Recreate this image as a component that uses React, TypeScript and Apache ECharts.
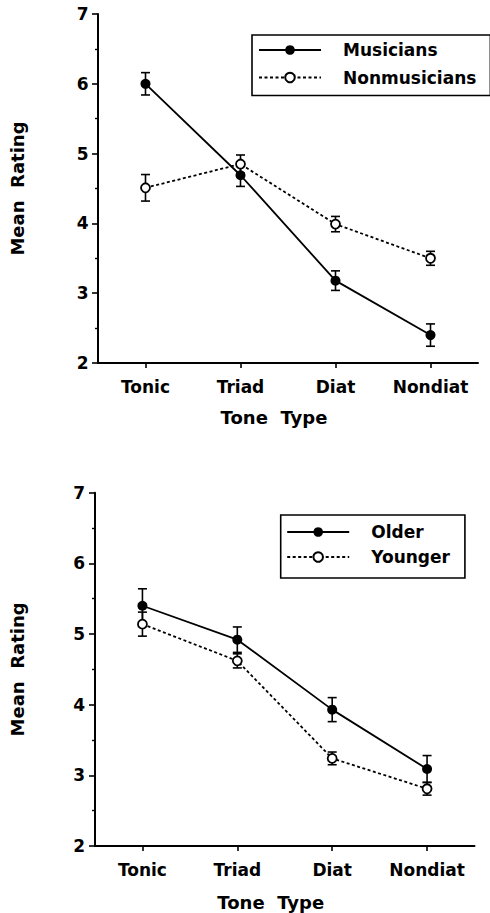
import React, { useEffect, useRef } from 'react';
import * as echarts from 'echarts';

const categories = ['Tonic', 'Triad', 'Diat', 'Nondiat'];
const yMin = 2;
const yMax = 7;
const yInterval = 1;

const musiciansMean = [6.0, 4.69, 3.18, 2.4];
const musiciansErr = [0.16, 0.16, 0.14, 0.16];
const nonmusiciansMean = [4.51, 4.85, 3.99, 3.5];
const nonmusiciansErr = [0.19, 0.13, 0.11, 0.1];

const olderMean = [5.4, 4.92, 3.93, 3.09];
const olderErr = [0.24, 0.18, 0.17, 0.19];
const youngerMean = [5.14, 4.62, 3.24, 2.81];
const youngerErr = [0.17, 0.1, 0.09, 0.09];

const FONT = "'DejaVu Sans', 'Liberation Sans', sans-serif";

function errData(mean: number[], err: number[]) {
  return mean.map((m, i) => [i, m - err[i], m + err[i]]);
}

function errorSeries(name: string, mean: number[], err: number[], idx: number) {
  return {
    type: 'custom',
    name,
    xAxisIndex: idx,
    yAxisIndex: idx,
    z: 1,
    silent: true,
    encode: { x: 0, y: [1, 2] },
    data: errData(mean, err),
    renderItem: (params: any, api: any) => {
      const x = api.value(0);
      const lo = api.coord([x, api.value(1)]);
      const hi = api.coord([x, api.value(2)]);
      const w = 4.5;
      const st = { stroke: '#000', lineWidth: 1.6 };
      return {
        type: 'group',
        children: [
          { type: 'line', shape: { x1: lo[0], y1: lo[1], x2: hi[0], y2: hi[1] }, style: st },
          { type: 'line', shape: { x1: lo[0] - w, y1: lo[1], x2: lo[0] + w, y2: lo[1] }, style: st },
          { type: 'line', shape: { x1: hi[0] - w, y1: hi[1], x2: hi[0] + w, y2: hi[1] }, style: st },
        ],
      };
    },
  };
}

function lineSeries(name: string, mean: number[], idx: number, filled: boolean) {
  return {
    type: 'line',
    name,
    xAxisIndex: idx,
    yAxisIndex: idx,
    z: 3,
    data: mean,
    symbol: 'circle',
    symbolSize: filled ? 10 : 9,
    itemStyle: filled
      ? { color: '#000', borderColor: '#000', borderWidth: 0 }
      : { color: '#fff', borderColor: '#000', borderWidth: 1.8 },
    lineStyle: filled
      ? { color: '#000', width: 1.8, type: 'solid' }
      : { color: '#000', width: 1.8, type: [3, 2.5] },
  };
}

function xAxisDef(idx: number, nameGap: number, margin: number) {
  return {
    type: 'category',
    gridIndex: idx,
    data: categories,
    boundaryGap: true,
    name: 'Tone  Type',
    nameLocation: 'middle',
    nameGap,
    nameTextStyle: { fontFamily: FONT, fontWeight: 'bold', fontSize: 18, color: '#000', padding: [0, 28, 0, 0] },
    axisLine: { show: true, lineStyle: { color: '#000', width: 2 } },
    axisTick: { show: true, interval: 0, alignWithLabel: true, length: 5, lineStyle: { color: '#000', width: 1.6 } },
    axisLabel: { interval: 0, fontFamily: FONT, fontWeight: 'bold', fontSize: 17, color: '#000', margin },
    splitLine: { show: false },
  };
}

function yAxisDef(idx: number, nameGap: number, margin: number) {
  return {
    type: 'value',
    gridIndex: idx,
    min: yMin,
    max: yMax,
    interval: yInterval,
    name: 'Mean  Rating',
    nameLocation: 'middle',
    nameRotate: 90,
    nameGap,
    nameTextStyle: { fontFamily: FONT, fontWeight: 'bold', fontSize: 18, color: '#000' },
    axisLine: { show: true, lineStyle: { color: '#000', width: 2 } },
    axisTick: { show: true, length: 6, lineStyle: { color: '#000', width: 1.6 } },
    minorTick: { show: true, splitNumber: 2, length: 3, lineStyle: { color: '#000', width: 1.4 } },
    axisLabel: { fontFamily: FONT, fontWeight: 'bold', fontSize: 17, color: '#000', margin },
    splitLine: { show: false },
    minorSplitLine: { show: false },
  };
}

function legendDef(names: string[], left: number, top: number, padding: number[], itemGap: number) {
  return {
    data: names,
    orient: 'vertical',
    left,
    top,
    padding,
    itemGap,
    itemWidth: 62,
    itemHeight: 12,
    borderColor: '#000',
    borderWidth: 1.6,
    borderRadius: 0,
    backgroundColor: '#fff',
    selectedMode: false,
    textStyle: {
      fontFamily: FONT,
      fontWeight: 'bold',
      fontSize: 17,
      color: '#000',
      lineHeight: 20,
      padding: [0, 0, 0, 17],
    },
  };
}

export default function App() {
  const ref = useRef<HTMLDivElement>(null);
  useEffect(() => {
    if (!ref.current) return;
    const chart = echarts.init(ref.current, undefined, { renderer: 'svg' });
    chart.setOption({
      animation: false,
      backgroundColor: '#fff',
      grid: [
        { left: 98, top: 14, width: 380, height: 349 },
        { left: 94.5, top: 492.7, width: 380, height: 353.3 },
      ],
      xAxis: [xAxisDef(0, 45, 15), xAxisDef(1, 47, 15)],
      yAxis: [yAxisDef(0, 72, 9.5), yAxisDef(1, 69, 10)],
      legend: [
        legendDef(['Musicians', 'Nonmusicians'], 252, 35, [5, 14, 8, 6], 7.5),
        legendDef(['Older', 'Younger'], 280.7, 515, [7, 15, 11, 5.5], 5),
      ],
      series: [
        errorSeries('Musicians SE', musiciansMean, musiciansErr, 0),
        errorSeries('Nonmusicians SE', nonmusiciansMean, nonmusiciansErr, 0),
        lineSeries('Musicians', musiciansMean, 0, true),
        lineSeries('Nonmusicians', nonmusiciansMean, 0, false),
        errorSeries('Older SE', olderMean, olderErr, 1),
        errorSeries('Younger SE', youngerMean, youngerErr, 1),
        lineSeries('Older', olderMean, 1, true),
        lineSeries('Younger', youngerMean, 1, false),
      ],
    });
    return () => chart.dispose();
  }, []);
  return (
    <div
      ref={ref}
      style={{ position: 'absolute', left: 0, top: 0, width: 490, height: 913, background: '#fff' }}
    />
  );
}
